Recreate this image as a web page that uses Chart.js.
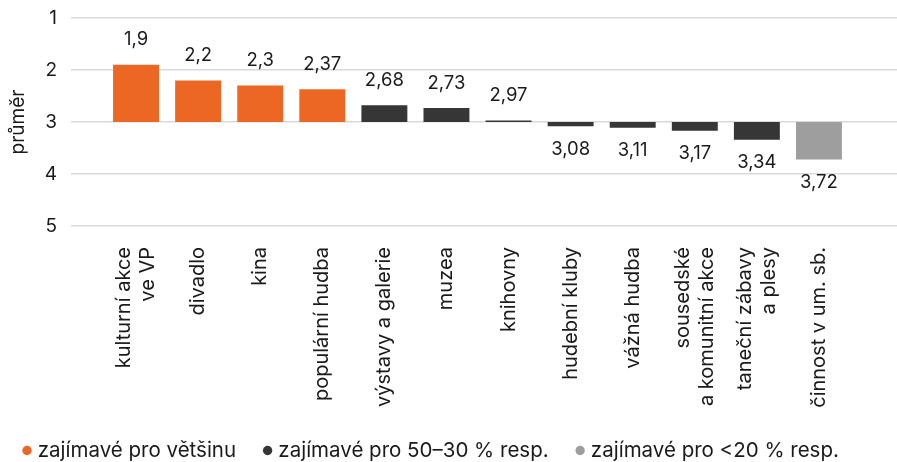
<!DOCTYPE html>
<html lang="cs">
<head>
    <meta charset="UTF-8">
    <title>Průměr zájmu</title>
    <script src="https://cdn.jsdelivr.net/npm/chart.js"></script>
    <style>
        body { margin: 0; background: #fff; }
        .chart-container { width: 897px; height: 462px; }
    </style>
</head>
<body>
    <div class="chart-container">
        <canvas id="avgChart"></canvas>
    </div>

    <script>
        // data
        const categories = [
            ['kulturní akce', 've VP'], 'divadlo', 'kina', 'populární hudba',
            'výstavy a galerie', 'muzea', 'knihovny', 'hudební kluby',
            'vážná hudba', ['sousedské', 'a komunitní akce'], ['taneční zábavy', 'a plesy'],
            'činnost v um. sb.'
        ];
        const averages = [1.9, 2.2, 2.3, 2.37, 2.68, 2.73, 2.97, 3.08, 3.11, 3.17, 3.34, 3.72];
        const groups = [0, 0, 0, 0, 1, 1, 1, 1, 1, 1, 1, 2];
        const groupNames = ['zajímavé pro většinu', 'zajímavé pro 50–30 % resp.', 'zajímavé pro <20 % resp.'];
        const yTicks = [1, 2, 3, 4, 5];
        const baseValue = 3;

        const groupColors = ['#EC6624', '#363636', '#9E9E9E'];
        const gridColor = '#D9D9D9';
        const textColor = '#1a1a1a';
        const fontFamily = 'Inter, "Noto Sans", sans-serif';

        const plotBottom = 226;     // where the "5" grid line sits
        const legendTextY = 450.5;  // middle of the legend row
        const legendStartX = 26.5;  // first legend dot
        const legendFont = 20.5;
        const xFont = { family: fontFamily, size: 20, lineHeight: 1.22 };

        // value labels at the outer end of each bar
        const valueLabels = {
            id: 'valueLabels',
            afterDatasetsDraw(chart) {
                const ctx = chart.ctx;
                const yScale = chart.scales.y;
                const meta = chart.getDatasetMeta(0);
                ctx.save();
                ctx.font = '18.5px ' + fontFamily;
                ctx.fillStyle = textColor;
                ctx.textAlign = 'center';
                ctx.textBaseline = 'middle';
                meta.data.forEach((bar, i) => {
                    const v = averages[i];
                    const end = yScale.getPixelForValue(v);
                    const y = v < baseValue ? end - 25 : end + 23;
                    ctx.fillText(String(v).replace('.', ','), bar.x, y);
                });
                ctx.restore();
            }
        };

        // legend keeps wide gaps between items but sits close to the bottom edge;
        // the x axis box is stretched down so its long labels are not clipped
        const legendShift = {
            id: 'legendShift',
            afterLayout(chart) {
                const lg = chart.legend;
                const pad = lg.options.labels.padding;
                const top = legendTextY - legendFont / 2 - pad;
                lg.bottom = top + lg.height;
                lg.top = top;
                lg.left = legendStartX - pad;
                chart.scales.x.bottom = chart.height;
            },
            // centre two-line rotated labels on their bar
            beforeDraw(chart) {
                const xs = chart.scales.x;
                const items = xs.getLabelItems(chart.chartArea);
                const lh = xFont.size * xFont.lineHeight;
                items.forEach(item => {
                    if (Array.isArray(item.label) && !item.centred) {
                        item.options.translation[0] -= (item.label.length - 1) * lh / 2;
                        item.centred = true;
                    }
                });
            }
        };

        const ctx = document.getElementById('avgChart').getContext('2d');
        new Chart(ctx, {
            type: 'bar',
            data: {
                labels: categories,
                datasets: [{
                    label: 'průměr',
                    data: averages.map(v => [baseValue, v]),
                    backgroundColor: groups.map(g => groupColors[g]),
                    borderWidth: 0,
                    categoryPercentage: 1,
                    barPercentage: 0.74
                }]
            },
            options: {
                responsive: true,
                maintainAspectRatio: false,
                animation: false,
                layout: { padding: { top: 18, left: 5, right: 0, bottom: 0 } },
                plugins: {
                    tooltip: { enabled: false },
                    legend: {
                        position: 'bottom',
                        align: 'start',
                        labels: {
                            usePointStyle: true,
                            pointStyle: 'circle',
                            boxWidth: 1,
                            boxHeight: 6.6,
                            padding: 31,
                            color: textColor,
                            font: { family: fontFamily, size: legendFont },
                            generateLabels: () => groupNames.map((name, i) => ({
                                text: name,
                                fillStyle: groupColors[i],
                                strokeStyle: groupColors[i],
                                fontColor: textColor,
                                lineWidth: 0,
                                pointStyle: 'circle',
                                hidden: false,
                                index: i
                            }))
                        }
                    }
                },
                scales: {
                    x: {
                        grid: { display: false, drawTicks: false },
                        border: { display: false },
                        afterFit: (scale) => {
                            scale.height = scale.chart.height - plotBottom - scale.chart.legend.height;
                        },
                        ticks: {
                            color: textColor,
                            maxRotation: 90,
                            minRotation: 90,
                            autoSkip: false,
                            padding: 21,
                            font: xFont
                        }
                    },
                    y: {
                        reverse: true,
                        min: 1,
                        max: 5,
                        afterBuildTicks: (scale) => { scale.ticks = yTicks.map(v => ({ value: v })); },
                        afterFit: (scale) => {
                            scale.width = 100;
                            scale.paddingTop = 0;
                            scale.paddingBottom = 0;
                        },
                        grid: { color: gridColor, lineWidth: 1.5, drawTicks: true, tickLength: 34 },
                        border: { display: false },
                        title: {
                            display: true,
                            text: 'průměr',
                            color: textColor,
                            font: { family: fontFamily, size: 19 },
                            padding: { top: 2, bottom: 4 }
                        },
                        ticks: {
                            color: textColor,
                            padding: 14,
                            font: { family: fontFamily, size: 19 }
                        }
                    },
                    yRight: {
                        position: 'right',
                        reverse: true,
                        min: 1,
                        max: 5,
                        afterBuildTicks: (scale) => { scale.ticks = yTicks.map(v => ({ value: v })); },
                        afterFit: (scale) => { scale.width = 47; },
                        grid: { color: gridColor, lineWidth: 1.5, drawOnChartArea: false, drawTicks: true, tickLength: 47 },
                        border: { display: false },
                        ticks: { display: false }
                    }
                }
            },
            plugins: [valueLabels, legendShift]
        });
    </script>
</body>
</html>
